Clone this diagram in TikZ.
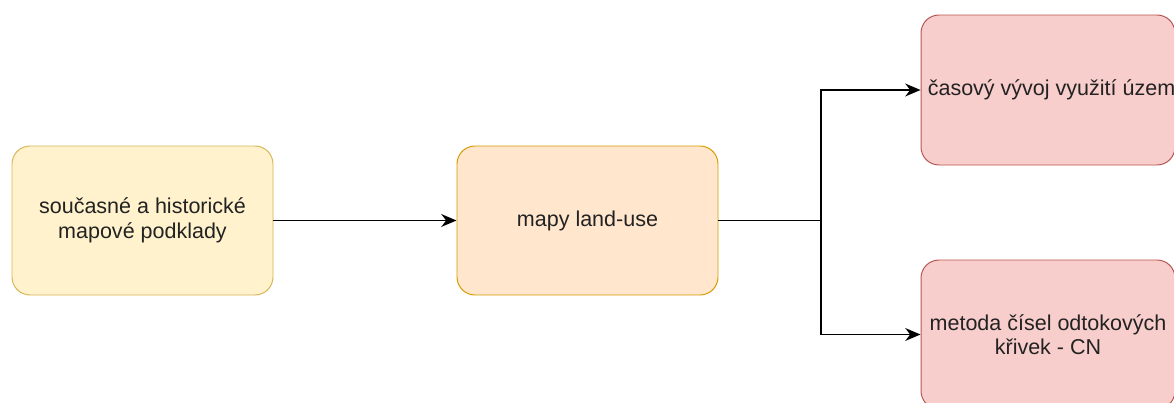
\documentclass[tikz,border=0pt]{standalone}
\usepackage{fontspec}
\setmainfont{Liberation Sans}
\usetikzlibrary{
  arrows.meta,
  positioning
}
\definecolor{zlutaVypln}{HTML}{FFF2CC}
\definecolor{zlutyOkraj}{HTML}{D6B656}
\definecolor{oranzovaVypln}{HTML}{FFE6CC}
\definecolor{oranzovyOkraj}{HTML}{D79B00}
\definecolor{cervenaVypln}{HTML}{F8CECC}
\definecolor{cervenyOkraj}{HTML}{B85450}
\definecolor{popisBarva}{HTML}{222222}
\tikzset{
  % For the text inside the boxes.
  popis/.style={
    font=\fontsize{15.3pt}{17.5pt}\selectfont,
    text=popisBarva},
%
  % For all boxes.
  krabice/.style={
    popis,
    draw,
    line width=0.7pt,
    rounded corners=0.45cm,
    minimum height=3.725cm,
    inner sep=0pt,
    align=center},
%
  % For the input box.
  vstup/.style={
    krabice,
    draw=zlutyOkraj,
    fill=zlutaVypln,
    minimum width=6.525cm},
%
  % For the middle box.
  mezikrok/.style={
    krabice,
    draw=oranzovyOkraj,
    fill=oranzovaVypln,
    minimum width=6.525cm},
%
  % For the result boxes.
  vystup/.style={
    krabice,
    draw=cervenyOkraj,
    fill=cervenaVypln,
    minimum width=6.35cm},
%
  % For connectors.
  sipka/.style={
    line width=1.3pt,
    -{Stealth[length=0.38cm, width=0.32cm, inset=0.12cm]}},
}

\begin{document}
\begin{tikzpicture}
  \useasboundingbox (0,0) rectangle (29.35,-10.075);
  \clip (0,0) rectangle (29.35,-10.075);

  \node[vstup] (podklady) at (3.5625,-5.5125)
    {současné a historické\\mapové podklady};
  \node[mezikrok] (mapy) at (14.6875,-5.5125) {mapy land-use};

  \node[vystup, minimum height=3.75cm] (vyvoj) at (26.2,-2.25) {};
  \node[popis, inner sep=0pt, right=0.175cm of vyvoj.west] (vyvojText)
    {časový vývoj využití územ};
  \node[vystup] (metoda) at (26.2,-8.3625)
    {metoda čísel odtokových\\křivek - CN};

  % Branching point between the two results.
  \coordinate (rozcesti) at (20.525,-5.5125);

  \draw[sipka] (podklady) -- (mapy);
  \draw[line width=1.3pt] (mapy.east) -- (rozcesti);
  \draw[sipka] (rozcesti) |- (vyvoj.west);
  \draw[sipka] (rozcesti) |- (metoda.west);
\end{tikzpicture}
\end{document}
